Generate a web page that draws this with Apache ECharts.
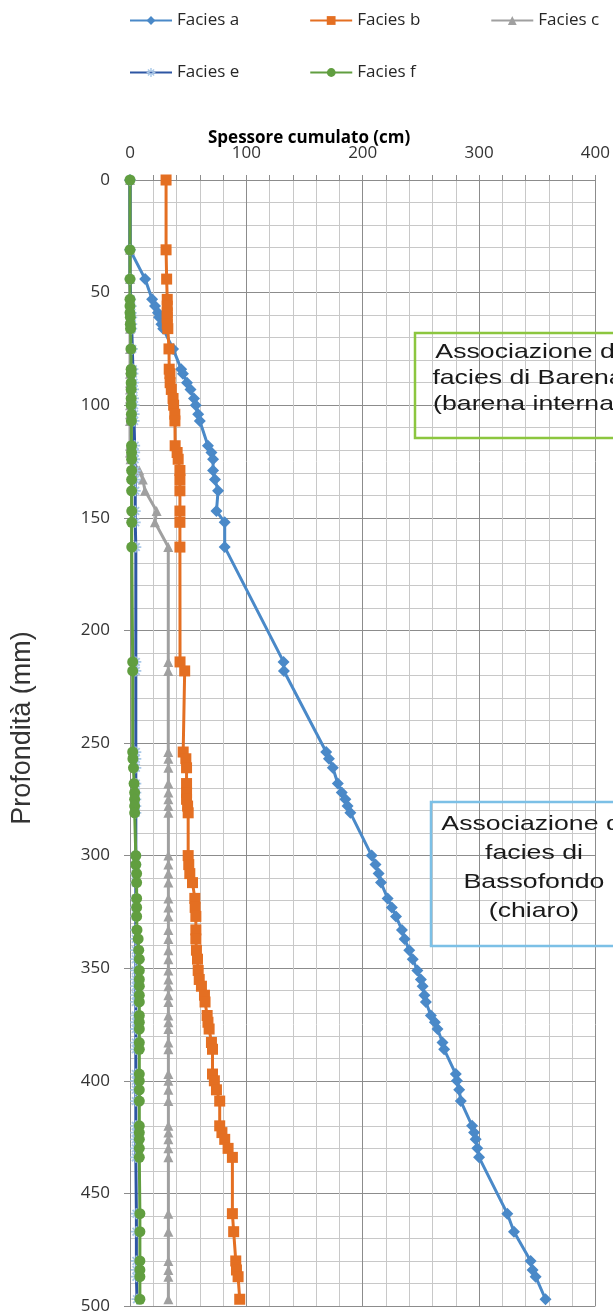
<!DOCTYPE html>
<html>
<head>
<meta charset="utf-8">
<script src="https://cdn.jsdelivr.net/npm/echarts@6/dist/echarts.min.js"></script>
<style>
  html, body { margin: 0; padding: 0; background: #fff; }
  #chart { width: 613px; height: 1315px; }
</style>
</head>
<body>
<div id="chart"></div>
<script>
// depth of each sample (mm)
const depths = [0, 31, 44, 53, 56, 59, 61, 64, 66, 75, 84, 86, 90, 93, 97, 100, 104, 107, 118, 121,
  124, 129, 133, 138, 147, 152, 163, 214, 218, 254, 257, 261, 268, 272, 275, 278, 281, 300, 304, 308,
  312, 319, 323, 327, 333, 337, 342, 346, 351, 355, 358, 362, 365, 371, 374, 377, 383, 386, 397, 400,
  404, 409, 420, 423, 426, 430, 434, 459, 467, 480, 484, 487, 497]

// cumulative thickness (cm) per facies
const faciesA = [0, 0, 13, 19, 21.5, 24, 25, 27, 28.5, 37, 44, 45.5, 49, 52, 55, 56.5, 58.6, 60, 67, 70,
  71.4, 71.4, 73, 75.7, 74.3, 81.4, 81.4, 132, 132.3, 168.6, 171, 174.3, 178.6, 182, 185.1, 187, 189.4, 207.7, 211, 213.7,
  215.7, 221.4, 225, 228.6, 233.7, 236, 240, 243, 247, 250, 251.5, 253, 254.3, 258.6, 262, 264.3, 268.6, 270, 280, 281,
  282.9, 284.3, 294, 295.7, 297.1, 298.5, 300, 324.3, 330, 344.3, 346, 348.6, 357.1]
const faciesB = [31, 31, 31.5, 32, 32, 32, 32, 32, 32.5, 33.5, 33.7, 34.3, 34.5, 35.5, 37, 37.5, 38.5, 38.6, 38.8, 40.5,
  41.4, 42.9, 42.9, 42.9, 42.9, 42.9, 42.9, 43, 47, 45.7, 48, 48.6, 48.6, 48.6, 48.6, 49.5, 50, 50, 50.5, 51.4,
  53.7, 55.7, 56, 56.6, 56.6, 56.6, 57.1, 58, 58.6, 59.5, 61.4, 64, 64.5, 66.3, 67, 68, 70, 70.9, 70.9, 72.5,
  74.3, 77.1, 77.1, 79, 81.4, 84.3, 88, 88, 89.1, 90.9, 91.5, 92.9, 94.3]
const faciesC = [0, 0, 0, 0, 0, 0, 0, 0, 0, 0, 0, 0, 0, 0, 0, 0, 0, 0, 0, 0,
  0.5, 8, 11, 12.9, 22.9, 21.4, 32.9, 32.9, 32.9, 32.9, 33, 33, 33, 33, 33, 33, 33, 33, 33, 33,
  33, 33, 33, 33, 33, 33, 33, 33, 33, 33, 33, 33, 33, 33, 33, 33, 33, 33, 33, 33,
  33, 33, 33, 33, 33, 33, 33, 33, 33, 33, 33, 33, 33]
const faciesE = [0, 0, 0, 0.5, 1, 1, 1.5, 1.5, 1.5, 2, 2.5, 2.5, 3, 3, 3, 3.5, 3.5, 3.5, 4, 4,
  4, 4.5, 4.5, 4.5, 4.5, 4.5, 5, 5, 5, 5, 5, 5, 5, 5, 5, 5, 5, 5, 5, 5,
  5, 5, 5, 5, 5, 5, 5, 5, 5, 5, 5, 5, 5, 5, 5, 5, 5, 5, 5, 5,
  5, 5, 5, 5, 5, 5, 5, 5.5, 5.5, 5.5, 5.5, 5.5, 6]
const faciesF = [0, 0, 0, 0, 0, 0, 0.3, 0.3, 0.5, 0.8, 1, 1, 1, 1, 1, 1, 1.2, 1.2, 1.3, 1.3,
  1.4, 1.4, 1.4, 1.4, 1.5, 1.5, 1.5, 2.3, 2.3, 2.3, 2.5, 3, 3.5, 4, 4, 4, 4, 5, 5, 5.7,
  5.7, 5.7, 5.7, 5.7, 6, 7, 7.5, 8, 8, 8, 8, 8, 8, 8, 8, 8, 8, 8, 8, 8,
  8, 8, 8, 8, 8, 8, 8, 8.5, 8.5, 8.5, 8.5, 8.5, 8.5]

const xTicks = [0, 100, 200, 300, 400]

const font = '"Open Sans", sans-serif'
const asterisk = 'path://M-5,-0.8L5,-0.8L5,0.8L-5,0.8Z M-0.8,-5L0.8,-5L0.8,5L-0.8,5Z M-4.1,-2.9L2.9,4.1L4.1,2.9L-2.9,-4.1Z M2.9,-4.1L-4.1,2.9L-2.9,4.1L4.1,-2.9Z'

function pairs(vals) {
  return depths.map((d, i) => [vals[i], d])
}

function makeSeries(name, vals, color, symbol, size, markerColor) {
  return {
    name,
    type: 'line',
    data: pairs(vals),
    symbol,
    symbolSize: size,
    showAllSymbol: true,
    lineStyle: { color, width: 3 },
    itemStyle: { color: markerColor || color },
    animation: false,
  }
}

const chart = echarts.init(document.getElementById('chart'))

chart.setOption({
  backgroundColor: '#fff',
  legend: [
    {
      data: ['Facies a', 'Facies b', 'Facies c'],
      left: 124,
      top: 7,
      itemWidth: 42,
      itemHeight: 11,
      itemGap: 70,
      textStyle: { fontFamily: font, fontSize: 17, color: '#262626' },
    },
    {
      data: ['Facies e', 'Facies f'],
      left: 124,
      top: 59,
      itemWidth: 42,
      itemHeight: 11,
      itemGap: 70,
      textStyle: { fontFamily: font, fontSize: 17, color: '#262626' },
    },
  ],
  grid: { left: 130, right: 16, top: 180, bottom: 9 },
  xAxis: {
    type: 'value',
    position: 'top',
    min: xTicks[0],
    max: xTicks[xTicks.length - 1],
    interval: 100,
    axisLine: { show: true, lineStyle: { color: '#8c8c8c' } },
    axisTick: { show: true, inside: false, length: 5, lineStyle: { color: '#8c8c8c' } },
    minorTick: { show: true, splitNumber: 5, length: 5, lineStyle: { color: '#8c8c8c' } },
    axisLabel: { margin: 18, fontFamily: font, fontSize: 17, color: '#333' },
    splitLine: { show: true, lineStyle: { color: '#8c8c8c', width: 1 } },
    minorSplitLine: { show: true, lineStyle: { color: '#c8c8c8', width: 1 } },
  },
  yAxis: {
    type: 'value',
    inverse: true,
    min: 0,
    max: 500,
    interval: 50,
    axisLine: { show: true, lineStyle: { color: '#8c8c8c' } },
    axisTick: { show: true, length: 6, lineStyle: { color: '#8c8c8c' } },
    minorTick: { show: false, splitNumber: 5 },
    axisLabel: { margin: 20, fontFamily: font, fontSize: 17, color: '#333' },
    splitLine: { show: true, lineStyle: { color: '#8c8c8c', width: 1 } },
    minorSplitLine: { show: true, lineStyle: { color: '#c8c8c8', width: 1 } },
  },
  graphic: [
    {
      type: 'text',
      x: 208,
      y: 138,
      style: {
        text: 'Spessore cumulato (cm)',
        font: 'bold 17px "Open Sans", sans-serif',
        fill: '#000',
        textVerticalAlign: 'middle',
      },
    },
    {
      type: 'text',
      x: 23,
      y: 728,
      rotation: Math.PI / 2,
      style: {
        text: 'Profondità (mm)',
        font: '27px "Liberation Sans", Arial, sans-serif',
        fill: '#333',
        textAlign: 'center',
        textVerticalAlign: 'middle',
      },
    },
    {
      type: 'rect',
      shape: { x: 415, y: 333, width: 320, height: 105 },
      style: { fill: 'none', stroke: '#8cc63f', lineWidth: 2.5 },
      z: 10,
    },
    {
      type: 'text',
      x: 528,
      y: 378,
      scaleX: 1.27,
      style: {
        text: 'Associazione di\nfacies di Barena\n(barena interna)',
        font: '21px "Liberation Sans", Arial, sans-serif',
        lineHeight: 26,
        fill: '#1a1a1a',
        textAlign: 'center',
        textVerticalAlign: 'middle',
      },
      z: 10,
    },
    {
      type: 'rect',
      shape: { x: 431, y: 802, width: 320, height: 144 },
      style: { fill: 'none', stroke: '#7cc0e6', lineWidth: 2.5 },
      z: 10,
    },
    {
      type: 'text',
      x: 534,
      y: 868,
      scaleX: 1.27,
      style: {
        text: 'Associazione di\nfacies di\nBassofondo\n(chiaro)',
        font: '21px "Liberation Sans", Arial, sans-serif',
        lineHeight: 29,
        fill: '#1a1a1a',
        textAlign: 'center',
        textVerticalAlign: 'middle',
      },
      z: 10,
    },
  ],
  series: [
    makeSeries('Facies a', faciesA, '#4a89c8', 'diamond', 12),
    makeSeries('Facies b', faciesB, '#e46f22', 'rect', 11),
    makeSeries('Facies c', faciesC, '#a0a0a0', 'triangle', 10),
    makeSeries('Facies e', faciesE, '#2e56a3', asterisk, 11, '#a8c8e8'),
    makeSeries('Facies f', faciesF, '#619e40', 'circle', 11),
  ],
})
</script>
</body>
</html>
